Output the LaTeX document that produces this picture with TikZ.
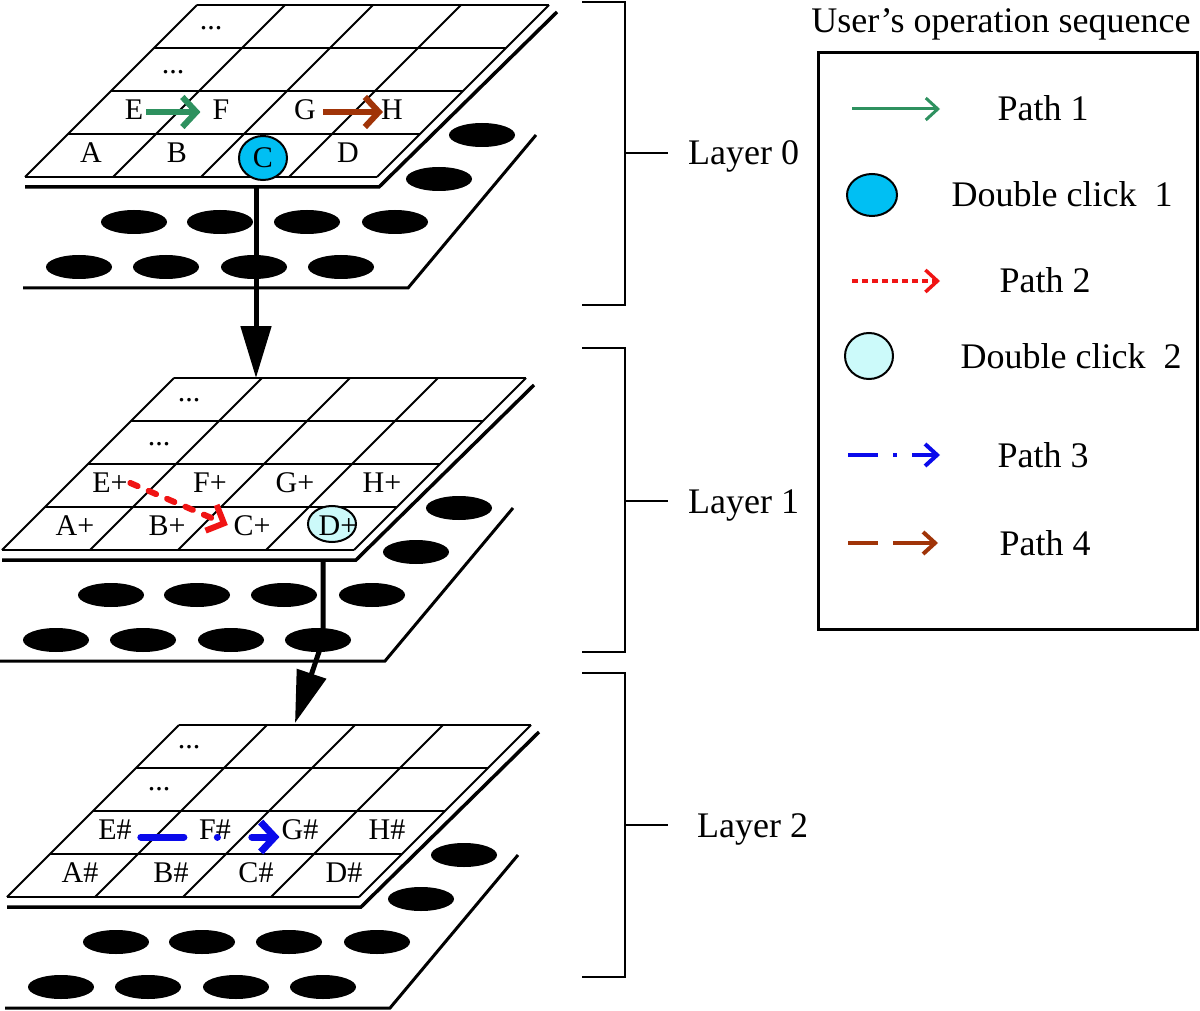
\documentclass[tikz,border=0pt]{standalone}
\usepackage{fontspec}
\setmainfont{Liberation Serif}
\usetikzlibrary{arrows.meta,shapes.geometric,calc}
\definecolor{cyanA}{RGB}{0,191,243}
\definecolor{cyanB}{RGB}{204,250,250}
\definecolor{pgreen}{RGB}{46,145,95}
\definecolor{pbrown}{RGB}{160,52,8}
\definecolor{pred}{RGB}{240,20,20}
\definecolor{pblue}{RGB}{10,10,235}
\begin{document}
\begin{tikzpicture}[x=1pt,y=-1pt,
  gridline/.style={line width=2pt},
  plateline/.style={line width=3pt},
  topedge/.style={line width=3.5pt},
  cell/.style={font=\fontsize{30}{36}\selectfont, inner sep=1pt, text height=20pt, text depth=0pt},
  dotsnode/.style={font=\fontsize{30}{36}\selectfont, inner sep=0pt, anchor=base},
  lab/.style={font=\fontsize{36}{43}\selectfont, inner sep=0pt, text height=24pt, text depth=0pt},
  brk/.style={line width=2.5pt},
  layarrow/.style={line width=5pt, -{Triangle[length=52pt,width=30pt]}},
  clickA/.style={ellipse, draw, line width=2pt, fill=cyanA},
  clickB/.style={ellipse, draw, line width=2pt, fill=cyanB},
  pA/.style={pgreen, line width=6pt, -{Straight Barb[length=14pt,width=30pt]}},
  pB/.style={pred, line width=6pt, line cap=round, dash pattern=on 8pt off 12pt, -{Straight Barb[length=14pt,width=28pt]}},
  pC/.style={pblue, line width=7pt, line cap=round, dash pattern=on 43pt off 33.5pt on 0.1pt off 34.4pt on 60pt, -{Straight Barb[length=14pt,width=30pt]}},
  pD/.style={pbrown, line width=6pt, -{Straight Barb[length=14pt,width=30pt]}},
  lgA/.style={pgreen, line width=3pt, -{Straight Barb[length=12pt,width=22pt]}},
  lgB/.style={pred, line width=3.5pt, dash pattern=on 6pt off 4pt, -{Straight Barb[length=12pt,width=22pt]}},
  lgC/.style={pblue, line width=4pt, dash pattern=on 30pt off 15pt on 4pt off 15pt on 60pt, -{Straight Barb[length=12pt,width=22pt]}},
  lgD/.style={pbrown, line width=4pt, dash pattern=on 30pt off 15pt on 60pt, -{Straight Barb[length=12pt,width=22pt]}},
]
\useasboundingbox (0,0) rectangle (1200,1011);

% ---------- the three layers (same drawing, shifted) ----------
\foreach \dx/\dy in {0/0,-23/373,-18/720}{
  \begin{scope}[shift={(\dx,\dy)}]
    % lower plate
    \draw[plateline] (23,288) -- (408,288) -- (536,135);
    \foreach \hx/\hy in {134/222,220/222,307/222,395/222,79/267,166/267,254/267,341/267,482/135,439/179}
      \fill (\hx,\hy) ellipse [x radius=33, y radius=12];
    % upper plate edge
    \draw[topedge] (25,187) -- (379,187) -- (557,12);
    % grid
    \fill[white] (25,177) -- (377,177) -- (549,5) -- (197,5) -- cycle;
    \foreach \i in {0,...,4}
      \draw[gridline] ($(25,177)+\i*(43,-43)$) -- ++(352,0);
    \foreach \j in {0,...,4}
      \draw[gridline] ($(25,177)+\j*(88,0)$) -- ++(172,-172);
  \end{scope}
}

% ---------- Layer 0 texts ----------
\node[dotsnode] (u0) at (211,30) {...};
\node[dotsnode] (v0) at (173,74) {...};
\node[cell] (e0) at (134,110) {E};
\node[cell] (f0) at (221,110) {F};
\node[cell] (g0) at (305,110) {G};
\node[cell] (h0) at (392,110) {H};
\node[cell] (a0) at (91,153) {A};
\node[cell] (b0) at (177,153) {B};
\node[cell, clickA, minimum width=48pt, minimum height=44pt, inner sep=0pt] (c0) at (263,158) {C};
\node[cell] (d0) at (348,153) {D};
\draw[pA] ([xshift=2pt,yshift=-2pt]e0.east) -- ([xshift=-11pt,yshift=-2pt]f0.west);
\draw[pD] ([xshift=6pt,yshift=-2pt]g0.east) -- ([xshift=3pt,yshift=-2pt]h0.west);

% ---------- Layer 1 texts ----------
\node[dotsnode] (u1) at (189,401) {...};
\node[dotsnode] (v1) at (159,445) {...};
\node[cell] (e1) at (110,482) {E+};
\node[cell] (f1) at (210,482) {F+};
\node[cell] (g1) at (295,482) {G+};
\node[cell] (h1) at (382,482) {H+};
\node[cell] (a1) at (75,525) {A+};
\node[cell] (b1) at (167,525) {B+};
\node[cell] (c1) at (252,525) {C+};
\node[clickB, minimum width=48pt, minimum height=36pt, inner sep=0pt] (d1) at (332,524) {};
\node[cell] (dt1) at (338,525) {D+};
\draw[pB] ([xshift=1.5pt,yshift=-1pt]e1.east) -- ([xshift=-4.5pt]c1.west);

% ---------- Layer 2 texts ----------
\node[dotsnode] (u2) at (189,748) {...};
\node[dotsnode] (v2) at (159,790) {...};
\node[cell] (e2) at (115,829) {E\#};
\node[cell] (f2) at (215,829) {F\#};
\node[cell] (g2) at (300,829) {G\#};
\node[cell] (h2) at (387,829) {H\#};
\node[cell] (a2) at (80,872) {A\#};
\node[cell] (b2) at (171,872) {B\#};
\node[cell] (c2) at (256,872) {C\#};
\node[cell] (d2) at (344,872) {D\#};
\draw[pC] ([xshift=8pt,yshift=-8pt]e2.east) -- ([xshift=-1pt,yshift=-8pt]g2.west);

% ---------- arrows between layers ----------
\coordinate (l0out) at (256,187);
\coordinate (l1in) at (256,378);
\draw[layarrow] (l0out) -- (l1in);
\coordinate (l1out) at (323,561);
\coordinate (l1bend) at (323,640);
\coordinate (l2in) at (295,723);
\draw[layarrow] (l1out) -- (l1bend) -- (l2in);

% ---------- brackets ----------
\draw[brk] (582,2) -- (625,2) -- (625,305) -- (582,305);
\draw[brk] (625,153) -- (668,153);
\node[lab, anchor=west] (lay0) at (688,153) {Layer 0};
\draw[brk] (582,348) -- (625,348) -- (625,652) -- (582,652);
\draw[brk] (625,501) -- (668,501);
\node[lab, anchor=west] (lay1) at (688,501) {Layer 1};
\draw[brk] (582,673) -- (625,673) -- (625,977) -- (582,977);
\draw[brk] (625,825) -- (668,825);
\node[lab, anchor=west] (lay2) at (697,825) {Layer 2};

% ---------- legend ----------
\node[lab] (title) at (1001,21) {User’s operation sequence};
\draw[line width=3pt] (818,53) rectangle (1197,629);
\coordinate (s1) at (852,109); \coordinate (t1) at (940,109);
\draw[lgA] (s1) -- (t1);
\node[lab] (n1) at (1043,109) {Path 1};
\node[clickA, minimum width=50pt, minimum height=42pt] (k1) at (872,195) {};
\node[lab] (m1) at (1062,195) {Double click\ \ 1};
\coordinate (s2) at (852,281); \coordinate (t2) at (940,281);
\draw[lgB] (s2) -- (t2);
\node[lab] (n2) at (1045,281) {Path 2};
\node[clickB, minimum width=48pt, minimum height=46pt] (k2) at (869,356) {};
\node[lab] (m2) at (1071,356) {Double click\ \ 2};
\coordinate (s3) at (848,455); \coordinate (t3) at (940,455);
\draw[lgC] (s3) -- (t3);
\node[lab] (n3) at (1043,455) {Path 3};
\coordinate (s4) at (848,543); \coordinate (t4) at (938,543);
\draw[lgD] (s4) -- (t4);
\node[lab] (n4) at (1045,543) {Path 4};
\end{tikzpicture}
\end{document}
